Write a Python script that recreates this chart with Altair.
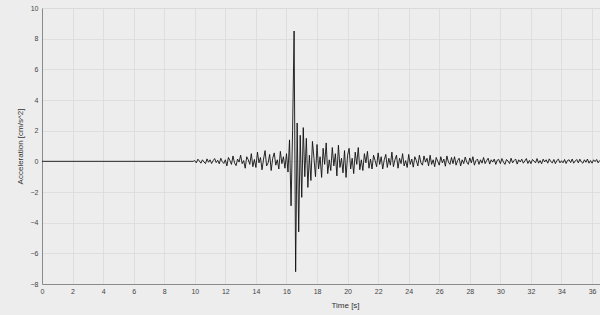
import altair as alt
import pandas as pd

# Pre-event quiet segment (flat trace)
quiet_time = [0.0, 9.9]
quiet_acc = [0.0, 0.0]

# Sampled trace from 10.0 s, one sample every 0.1 s (values in cm/s^2)
trace_start = 10.0
trace_dt = 0.1
trace_acc = [
    # 10 s
    0.05, -0.1, 0.14, 0.02, -0.12, 0.1, -0.04, -0.15, 0.16, -0.06,
    # 11 s
    0.1, -0.14, 0.04, 0.18, -0.08, 0.07, -0.16, 0.2, -0.02, -0.14,
    # 12 s
    0.1, -0.3, 0.25, 0.05, -0.2, 0.35, -0.1, -0.28, 0.15, -0.05,
    # 13 s
    0.4, -0.15, 0.05, -0.45, 0.3, 0.1, -0.2, 0.5, -0.35, 0.12,
    # 14 s
    -0.4, 0.6, -0.1, 0.25, -0.55, 0.15, 0.7, -0.3, -0.1, 0.45,
    # 15 s
    -0.6, 0.2, 0.55, -0.25, 0.1, -0.5, 0.65, -0.15, 0.3, -0.45,
    # 16 s
    0.5, -0.7, 1.4, -2.9, 2.0, 8.5, -7.2, 2.5, -4.6, 1.7,
    # 17 s
    -2.35, 2.2, -1.0, 1.5, -1.7, 0.4, -1.25, 1.3, 0.2, -1.0,
    # 18 s
    1.1, -0.5, 0.3, -1.05, 0.85, -0.2, 1.2, -0.8, 0.1, -0.6,
    # 19 s
    0.9, -0.3, 0.5, -0.95, 1.05, -0.4, 0.2, -0.75, 0.7, -1.05,
    # 20 s
    0.4, 0.85, -0.5, 0.2, -0.8, 0.6, -0.2, 0.9, -0.55, 0.1,
    # 21 s
    -0.6, 0.5, -0.1, 0.65, -0.45, 0.15, -0.5, 0.4, 0.05, -0.35,
    # 22 s
    0.55, -0.2, 0.3, -0.5, 0.1, 0.45, -0.4, 0.2, -0.25, 0.6,
    # 23 s
    -0.35, 0.1, 0.4, -0.45, 0.2, -0.15, 0.5, -0.3, 0.05, -0.4,
    # 24 s
    0.45, -0.2, 0.15, -0.38, 0.3, 0.05, -0.3, 0.4, -0.1, -0.25,
    # 25 s
    0.35, -0.05, 0.2, -0.3, 0.4, -0.2, 0.1, -0.35, 0.25, 0.0,
    # 26 s
    -0.25, 0.3, -0.1, 0.15, -0.32, 0.35, -0.05, -0.2, 0.25, -0.15,
    # 27 s
    0.3, -0.25, 0.05, 0.2, -0.3, 0.1, -0.15, 0.28, -0.05, -0.2,
    # 28 s
    0.22, -0.1, 0.3, -0.25, 0.05, 0.15, -0.2, 0.1, -0.12, 0.25,
    # 29 s
    -0.15, 0.05, 0.2, -0.18, 0.1, -0.05, 0.15, -0.2, 0.08, 0.12,
    # 30 s
    -0.15, 0.18, -0.05, -0.2, 0.12, 0.02, -0.15, 0.2, -0.1, 0.05,
    # 31 s
    0.15, -0.18, 0.1, -0.04, 0.14, -0.12, 0.02, 0.18, -0.14, 0.06,
    # 32 s
    -0.15, 0.12, 0.02, -0.1, 0.18, -0.12, 0.05, -0.16, 0.14, -0.04,
    # 33 s
    0.1, -0.12, 0.16, -0.02, -0.1, 0.12, -0.15, 0.06, 0.14, -0.1,
    # 34 s
    0.04, -0.1, 0.12, -0.14, 0.06, 0.1, -0.08, 0.15, -0.12, 0.02,
    # 35 s
    0.12, -0.1, 0.14, -0.04, -0.12, 0.1, -0.06, 0.15, -0.12, 0.05,
    # 36 s
    -0.12, 0.1, -0.02, 0.12, -0.1, 0.06,
]

x_ticks = list(range(0, 37, 2))
y_ticks = list(range(-8, 11, 2))

times = quiet_time + [round(trace_start + i * trace_dt, 2) for i in range(len(trace_acc))]
accs = quiet_acc + trace_acc
df = pd.DataFrame({"t": times, "a": accs})

font = "Liberation Sans"

chart = (
    alt.Chart(df)
    .mark_line(color="#111111", strokeWidth=0.9, clip=True)
    .encode(
        x=alt.X(
            "t:Q",
            scale=alt.Scale(domain=[0, 36.52], nice=False, zero=False),
            axis=alt.Axis(
                values=x_ticks,
                title="Time [s]",
                titleX=303,
                titleY=17,
                titleFontSize=8,
                titleFontWeight="normal",
                titleColor="#333333",
                labelFontSize=7,
                labelColor="#444444",
                labelPadding=3,
                ticks=False,
                domainColor="#8a8a8a",
                gridColor="#d9d9d9",
                gridWidth=0.8,
                labelFlush=False,
            ),
        ),
        y=alt.Y(
            "a:Q",
            scale=alt.Scale(domain=[-8, 10], nice=False),
            axis=alt.Axis(
                values=y_ticks,
                title="Acceleration [cm/s^2]",
                titleFontSize=8,
                titleFontWeight="normal",
                titleColor="#333333",
                titlePadding=6,
                labelFontSize=7,
                labelColor="#444444",
                labelPadding=4,
                ticks=False,
                domainColor="#8a8a8a",
                gridColor="#d9d9d9",
                gridWidth=0.8,
                labelFlush=False,
            ),
        ),
    )
    .properties(
        width=558,
        height=276,
        autosize=alt.AutoSizeParams(type="none"),
        padding={"left": 42, "top": 8, "right": 0, "bottom": 31},
        background="#ededed",
    )
    .configure_view(stroke=None, fill="#f1f1f1")
    .configure(font=font)
)

chart.save("out.html", embed_options={"renderer": "svg", "actions": False})
